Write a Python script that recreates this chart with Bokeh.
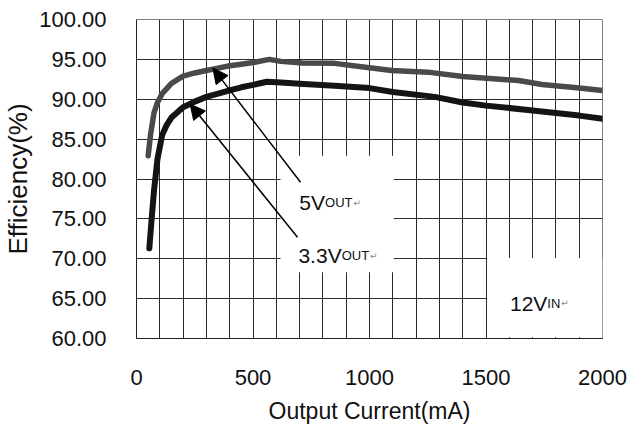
from bokeh.plotting import figure
from bokeh.models import FixedTicker, Range1d, Arrow, NormalHead
from bokeh.core.properties import value
from bokeh.embed import file_html
from bokeh.resources import INLINE

# ---- data ----
cur_5v = [50, 60, 75, 90, 110, 150, 200, 250, 300, 350, 400, 450, 500, 570, 620,
          712, 850, 1000, 1096, 1250, 1400, 1640, 1740, 1890, 2000]
eff_5v = [82.9, 85.5, 88.3, 89.6, 90.7, 92.0, 92.9, 93.3, 93.6, 93.9, 94.2, 94.4, 94.6, 95.0, 94.75,
          94.55, 94.5, 93.95, 93.6, 93.4, 92.85, 92.35, 91.85, 91.45, 91.1]

cur_33v = [55, 65, 75, 90, 110, 130, 150, 200, 250, 300, 350, 400, 450, 500, 560, 620,
           700, 850, 1000, 1100, 1280, 1400, 1500, 1700, 1900, 2000]
eff_33v = [71.3, 75.0, 78.5, 82.5, 85.5, 86.8, 87.7, 89.0, 89.7, 90.3, 90.7, 91.1, 91.5, 91.8, 92.2, 92.1,
           91.95, 91.7, 91.4, 90.9, 90.3, 89.6, 89.2, 88.6, 87.95, 87.55]

y_ticks = [60, 65, 70, 75, 80, 85, 90, 95, 100]
y_tick_labels = ["60.00", "65.00", "70.00", "75.00", "80.00", "85.00", "90.00", "95.00", "100.00"]
x_ticks = [0, 500, 1000, 1500, 2000]
x_tick_labels = ["0", "500", "1000", "1500", "2000"]

label_main = ["5V", "3.3V", "12V"]
label_sub = ["OUT", "OUT", "IN"]

FONT = "Liberation Sans"

p = figure(width=628, height=434, output_backend="svg", toolbar_location=None,
           x_range=Range1d(0, 2000), y_range=Range1d(60, 100),
           min_border_left=133, min_border_right=26, min_border_top=19, min_border_bottom=96)
p.background_fill_color = "white"
p.border_fill_color = "white"
p.outline_line_color = "#808080"
p.outline_line_width = 1

# axes
p.xaxis.ticker = FixedTicker(ticks=x_ticks)
p.xaxis.major_label_overrides = {t: l for t, l in zip(x_ticks, x_tick_labels)}
p.yaxis.ticker = FixedTicker(ticks=y_ticks)
p.yaxis.major_label_overrides = {t: l for t, l in zip(y_ticks, y_tick_labels)}
for ax in (p.xaxis[0], p.yaxis[0]):
    ax.major_tick_out = 0
    ax.major_tick_in = 0
    ax.minor_tick_out = 0
    ax.minor_tick_in = 0
    ax.axis_line_color = "#222222"
    ax.major_label_text_font = FONT
    ax.major_label_text_font_size = "22px"
    ax.major_label_text_color = "#111111"
    ax.axis_label_text_font = FONT
    ax.axis_label_text_font_style = "normal"
    ax.axis_label_text_color = "#111111"
p.yaxis.major_label_standoff = 30
p.xaxis.major_label_standoff = 31
p.xaxis.axis_label = "Output Current(mA)"
p.yaxis.axis_label = "Efficiency(%)"
p.xaxis.axis_label_text_font_size = "23px"
p.yaxis.axis_label_text_font_size = "26px"
p.xaxis.axis_label_standoff = 10
p.yaxis.axis_label_standoff = 3

# grid
p.xgrid.ticker = FixedTicker(ticks=list(range(0, 2001, 100)))
p.ygrid.ticker = FixedTicker(ticks=y_ticks)
for g in (p.xgrid[0], p.ygrid[0]):
    g.grid_line_color = "#2a2a2a"
    g.grid_line_width = 1
    g.grid_line_alpha = 1.0

# white label boxes masking the grid
p.quad(left=[618, 1505], right=[1104, 2000], bottom=[68.3, 60.15], top=[82.9, 70.1],
       fill_color="white", line_color=None)

# curves
p.line(cur_5v, eff_5v, line_color="#4a4a4a", line_width=5.5, line_join="round", line_cap="round")
p.line(cur_33v, eff_33v, line_color="#141414", line_width=6, line_join="round", line_cap="round")

# arrows
p.add_layout(Arrow(end=NormalHead(size=15, fill_color="black", line_color="black"),
                   x_start=704, y_start=79.6, x_end=328, y_end=93.9,
                   line_color="black", line_width=1.5))
p.add_layout(Arrow(end=NormalHead(size=15, fill_color="black", line_color="black"),
                   x_start=691, y_start=72.7, x_end=230, y_end=89.4,
                   line_color="black", line_width=1.5))

# labels
lab_x = [699, 695, 1603]
lab_y = [77.05, 70.4, 64.4]
W = {'5': .556, 'V': .667, '3': .556, '.': .278, '1': .556, '2': .556,
     'O': .778, 'U': .722, 'T': .611, 'I': .278, 'N': .722}
def width(s, size):
    return sum(W[c] for c in s) * size

for x, y, m, s in zip(lab_x, lab_y, label_main, label_sub):
    p.text(x=[x], y=[y], text=[m], text_font=value(FONT), text_font_size="21px",
           text_color="#111111", text_baseline="alphabetic", text_align="left")
    off = width(m, 21)
    p.text(x=[x], y=[y], text=[s], x_offset=off, text_font=value(FONT), text_font_size="13px",
           text_color="#111111", text_baseline="alphabetic", text_align="left")
    off2 = off + width(s, 13) + 1
    p.text(x=[x], y=[y], text=["\u21b5"], x_offset=off2, text_font=value("DejaVu Sans"),
           text_font_size="9px", text_color="#888888", text_baseline="alphabetic", text_align="left")

open("out.html", "w").write(file_html(p, INLINE))
